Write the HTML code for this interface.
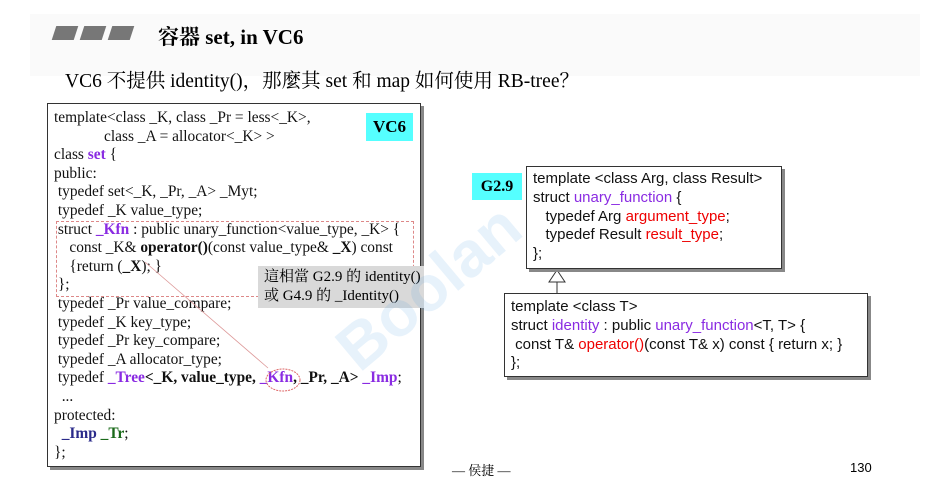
<!DOCTYPE html>
<html><head><meta charset="utf-8"><style>
body{margin:0;width:949px;height:489px;background:#fff;position:relative;overflow:hidden;font-family:"Liberation Serif","Noto Serif CJK SC",serif;}
.a{position:absolute;white-space:nowrap;}
.code{font-size:15.4px;line-height:18.6px;color:#111;}
.sans{font-family:"Liberation Sans",sans-serif;font-size:15px;line-height:18.8px;color:#111;}
.p{color:#8a2be2;} .r{color:#e00;} .b{font-weight:bold;} .n{color:#2a2a8a;font-weight:bold;} .g{color:#1a6a1a;font-weight:bold;}
.box{position:absolute;border:1px solid #333;background:#fff;box-shadow:3px 3px 0 #888;}
.bar{position:absolute;top:26px;width:22px;height:14px;background:#777;transform:skewX(-18deg);}
</style></head><body>
<div class="a" style="left:30px;top:14px;width:890px;height:62px;background:#fafafa"></div>
<div class="bar" style="left:54px"></div><div class="bar" style="left:82px"></div><div class="bar" style="left:110px"></div>
<div class="a" style="left:158px;top:21px;font-size:21px;font-weight:bold;font-family:'Liberation Serif','Noto Serif CJK SC',serif;">容器 set, in VC6</div>
<div class="a" style="left:65px;top:65px;font-size:19.5px;">VC6 不提供 identity()，那麼其 set 和 map 如何使用 RB-tree？</div>

<div class="box" style="left:47px;top:103px;width:372px;height:362px"></div>
<div class="a" style="left:56px;top:221px;width:356px;height:74px;border:1px dashed #d88;"></div>
<div class="a" style="left:366px;top:113px;width:47px;height:28px;background:#5ff;font-weight:bold;font-size:17px;text-align:center;line-height:28px;">VC6</div>
<div class="a code" style="left:54px;top:109px;">
template&lt;class _K, class _Pr = less&lt;_K&gt;,<br>
&nbsp;&nbsp;&nbsp;&nbsp;&nbsp;&nbsp;&nbsp;&nbsp;&nbsp;&nbsp;&nbsp;&nbsp;&nbsp;class _A = allocator&lt;_K&gt; &gt;<br>
class <span class="p b">set</span> {<br>
public:<br>
&nbsp;typedef set&lt;_K, _Pr, _A&gt; _Myt;<br>
&nbsp;typedef _K value_type;<br>
&nbsp;struct <span class="p b">_Kfn</span> : public unary_function&lt;value_type, _K&gt; {<br>
&nbsp;&nbsp;&nbsp;&nbsp;const _K&amp; <b>operator()</b>(const value_type&amp; <b>_X</b>) const<br>
&nbsp;&nbsp;&nbsp;&nbsp;{return (<b>_X</b>); }<br>
&nbsp;};<br>
&nbsp;typedef _Pr value_compare;<br>
&nbsp;typedef _K key_type;<br>
&nbsp;typedef _Pr key_compare;<br>
&nbsp;typedef _A allocator_type;<br>
&nbsp;typedef <span class="p b">_Tree</span><b>&lt;_K, value_type, <span class="p">_Kfn</span>, _Pr, _A&gt;</b> <span class="p b">_Imp</span>;<br>
&nbsp;&nbsp;...<br>
protected:<br>
&nbsp;&nbsp;<span class="n">_Imp</span> <span class="g">_Tr</span>;<br>
};</div>
<svg class="a" style="left:0;top:0" width="949" height="489">
<line x1="145" y1="262" x2="268" y2="368" stroke="#d99" stroke-width="0.8"/>
<ellipse cx="283" cy="380" rx="17" ry="11" fill="none" stroke="#d66" stroke-width="1" stroke-dasharray="2,1"/>
<line x1="557" y1="282" x2="557" y2="293" stroke="#333"/>
<polygon points="557,270 549,282 565,282" fill="#fff" stroke="#333"/>
</svg>
<div class="a" style="left:258px;top:266px;width:166px;height:42px;background:#d9d9d9;font-size:15px;line-height:19px;padding:2px 0 0 6px;box-sizing:border-box;">這相當 G2.9 的 identity()<br>或 G4.9 的 _Identity()</div>

<div class="a" style="left:472px;top:173px;width:50px;height:27px;background:#5ff;font-weight:bold;font-size:16px;text-align:center;line-height:27px;">G2.9</div>
<div class="box" style="left:526px;top:166px;width:254px;height:101px"></div>
<div class="a sans" style="left:533px;top:170px;">template &lt;class Arg, class Result&gt;<br>struct <span class="p">unary_function</span> {<br>&nbsp;&nbsp;&nbsp;typedef Arg <span class="r">argument_type</span>;<br>&nbsp;&nbsp;&nbsp;typedef Result <span class="r">result_type</span>;<br>};</div>
<div class="box" style="left:504px;top:293px;width:362px;height:82px"></div>
<div class="a sans" style="left:511px;top:298px;">template &lt;class T&gt;<br>struct <span class="p">identity</span> : public <span class="p">unary_function</span>&lt;T, T&gt; {<br>&nbsp;const T&amp; <span class="r">operator()</span>(const T&amp; x) const { return x; }<br>};</div>

<div class="a" style="left:452px;top:460px;font-size:13px;">— 侯捷 —</div>
<div class="a" style="left:850px;top:460px;font-size:13px;font-family:'Liberation Sans',sans-serif;">130</div>
<div class="a" style="left:320px;top:250px;font-size:64px;font-weight:bold;color:rgba(60,150,220,0.12);transform:rotate(-40deg);font-family:'Liberation Sans',sans-serif;">Boolan</div>
</body></html>
